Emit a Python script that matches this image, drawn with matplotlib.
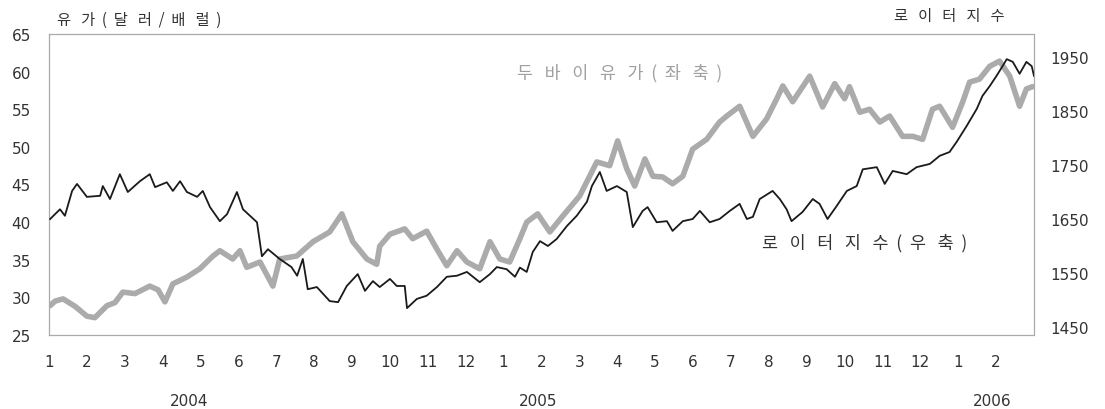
import matplotlib
matplotlib.use("Agg")
import matplotlib.pyplot as plt
import matplotlib.transforms as mtransforms

plt.rcParams['font.family'] = ['Noto Sans CJK KR', 'DejaVu Sans']

# ---- data (time in months since start of Jan 2004) ----
oil_t = [0.03, 0.16, 0.37, 0.69, 1.00, 1.21, 1.53, 1.74, 1.95, 2.27, 2.66, 2.88, 3.06, 3.27,
         3.64, 3.98, 4.33, 4.51, 4.85, 5.04, 5.22, 5.57, 5.91, 6.09, 6.54, 6.97, 7.41, 7.73,
         8.02, 8.39, 8.65, 8.73, 9.00, 9.39, 9.60, 9.97, 10.24, 10.50, 10.77, 11.03, 11.37,
         11.64, 11.90, 12.16, 12.43, 12.61, 12.90, 13.22, 13.56, 14.01, 14.46, 14.80, 15.01,
         15.25, 15.46, 15.73, 15.94, 16.20, 16.46, 16.73, 16.99, 17.36, 17.70, 17.89, 18.23,
         18.58, 18.94, 19.21, 19.37, 19.63, 20.08, 20.42, 20.74, 21.00, 21.13, 21.40, 21.66,
         21.93, 22.19, 22.53, 22.80, 23.06, 23.32, 23.51, 23.85, 24.12, 24.30, 24.56, 24.83,
         25.09, 25.36, 25.62, 25.80, 25.96]
oil_v = [28.9, 29.5, 29.8, 28.8, 27.5, 27.3, 28.9, 29.3, 30.7, 30.5, 31.5, 31.0, 29.4, 31.8,
         32.7, 33.8, 35.5, 36.2, 35.1, 36.2, 34.0, 34.7, 31.5, 35.1, 35.5, 37.4, 38.7, 41.1,
         37.4, 35.1, 34.4, 36.8, 38.4, 39.1, 37.8, 38.8, 36.4, 34.2, 36.2, 34.7, 33.8,
         37.4, 35.1, 34.7, 37.8, 40.0, 41.1, 38.7, 40.8, 43.5, 48.0, 47.5, 50.8,
         47.1, 44.8, 48.4, 46.1, 46.0, 45.1, 46.1, 49.7, 51.0, 53.3, 54.1, 55.4,
         51.4, 53.7, 56.4, 58.1, 56.0, 59.4, 55.3, 58.4, 56.4, 58.0, 54.6, 55.0,
         53.3, 54.1, 51.4, 51.4, 51.0, 55.0, 55.4, 52.6, 56.0, 58.6, 59.0, 60.7,
         61.4, 59.4, 55.4, 57.7, 58.0]

idx_t = [0.03, 0.29, 0.42, 0.61, 0.74, 1.00, 1.35, 1.42, 1.61, 1.87, 2.08, 2.40, 2.66, 2.80,
         3.11, 3.27, 3.46, 3.64, 3.91, 4.06, 4.25, 4.51, 4.70, 4.96, 5.12, 5.49, 5.62, 5.78,
         6.09, 6.40, 6.55, 6.70, 6.83, 7.07, 7.41, 7.63, 7.86, 8.15, 8.34, 8.55, 8.73, 9.00,
         9.18, 9.39, 9.45, 9.71, 9.97, 10.24, 10.50, 10.77, 11.03, 11.37, 11.64, 11.82, 12.08,
         12.30, 12.43, 12.61, 12.77, 12.96, 13.17, 13.40, 13.67, 13.93, 14.20, 14.33, 14.54,
         14.72, 14.99, 15.25, 15.41, 15.67, 15.80, 16.04, 16.31, 16.46, 16.73, 16.99, 17.18,
         17.44, 17.70, 17.97, 18.23, 18.42, 18.58, 18.76, 19.10, 19.29, 19.47, 19.60, 19.89,
         20.16, 20.34, 20.55, 20.79, 21.06, 21.32, 21.48, 21.85, 22.06, 22.27, 22.64, 22.90,
         23.25, 23.51, 23.77, 23.96, 24.22, 24.49, 24.64, 24.83, 25.01, 25.17, 25.28, 25.44,
         25.62, 25.80, 25.94, 26.00]
idx_v = [1650, 1668, 1656, 1702, 1715, 1691, 1693, 1711, 1687, 1733, 1700, 1720, 1733, 1709,
         1718, 1702, 1720, 1700, 1691, 1702, 1672, 1646, 1659, 1700, 1668, 1644, 1581, 1594,
         1576, 1561, 1545, 1576, 1520, 1524, 1498, 1496, 1526, 1548, 1517, 1535, 1524, 1539,
         1526, 1526, 1485, 1502, 1508, 1524, 1543, 1545, 1552, 1533, 1548, 1561, 1557,
         1543, 1560, 1552, 1589, 1609, 1600, 1613, 1637, 1656, 1682, 1711, 1737,
         1702, 1711, 1700, 1635, 1665, 1672, 1644, 1646, 1628, 1646, 1650, 1665,
         1644, 1650, 1665, 1678, 1650, 1654, 1687, 1702, 1687, 1668, 1646, 1663,
         1687, 1678, 1650, 1674, 1702, 1711, 1742, 1746, 1715, 1739, 1733, 1746,
         1752, 1767, 1774, 1793, 1822, 1854, 1878, 1896, 1915, 1933, 1946, 1941,
         1919, 1941, 1933, 1915]

month_labels = ['1', '2', '3', '4', '5', '6', '7', '8', '9', '10', '11', '12',
                '1', '2', '3', '4', '5', '6', '7', '8', '9', '10', '11', '12',
                '1', '2']
year_labels = ['2004', '2005', '2006']
year_pos = [3.7, 12.9, 24.9]

left_ticks = [25, 30, 35, 40, 45, 50, 55, 60, 65]
right_ticks = [1450, 1550, 1650, 1750, 1850, 1950]

# ---- figure ----
W, H = 1105, 410
fig = plt.figure(figsize=(W / 100, H / 100), dpi=100)
ax = fig.add_axes([49 / W, 1 - 336 / H, (1034 - 49) / W, (336 - 35) / H])
ax2 = ax.twinx()

ax.plot(oil_t, oil_v, color='#ababab', lw=4.0, solid_joinstyle='round',
        solid_capstyle='round', zorder=2)
ax2.plot(idx_t, idx_v, color='#1a1a1a', lw=1.3, zorder=3)

ax.set_xlim(0, 26)
ax.set_ylim(25, 65)
ax2.set_ylim(1435.2, 1992.6)

numfont = dict(family='DejaVu Sans', size=11)
ax.set_yticks(left_ticks)
ax.set_yticklabels([str(v) for v in left_ticks], color='#333333', **numfont)
ax2.set_yticks(right_ticks)
ax2.set_yticklabels([str(v) for v in right_ticks], color='#333333', **numfont)
ax.set_xticks(range(len(month_labels)))
ax.set_xticklabels(month_labels, color='#333333', **numfont)

ax.tick_params(axis='y', length=0, pad=13)
ax2.tick_params(axis='y', length=0, pad=12)
ax.tick_params(axis='x', length=0, pad=14)

for a in (ax, ax2):
    for s in a.spines.values():
        s.set_color('#aaaaaa')
        s.set_linewidth(0.8)
        s.set_linestyle((0, (1.5, 0.7)))

trans = mtransforms.blended_transform_factory(ax.transData, fig.transFigure)
for lab, p in zip(year_labels, year_pos):
    ax.text(p, 1 - 402 / H, lab, transform=trans, ha='center', va='center',
            color='#333333', **numfont)

fig.text(57 / W, 1 - 20 / H, '유   가  (  달   러  /  배   럴  )', ha='left', va='center',
         fontsize=11, color='#333333')
fig.text(1005 / W, 1 - 17 / H, '로   이   터   지   수', ha='right', va='center',
         fontsize=11, color='#333333')
fig.text(517 / W, 1 - 73 / H, '두   바   이   유   가  (  좌   축  )', ha='left', va='center',
         fontsize=12.5, color='#a0a0a0')
fig.text(762 / W, 1 - 243 / H, '로   이   터   지   수  (  우   축  )', ha='left', va='center',
         fontsize=12.5, color='#333333')

fig.savefig('out.png', dpi=100)
